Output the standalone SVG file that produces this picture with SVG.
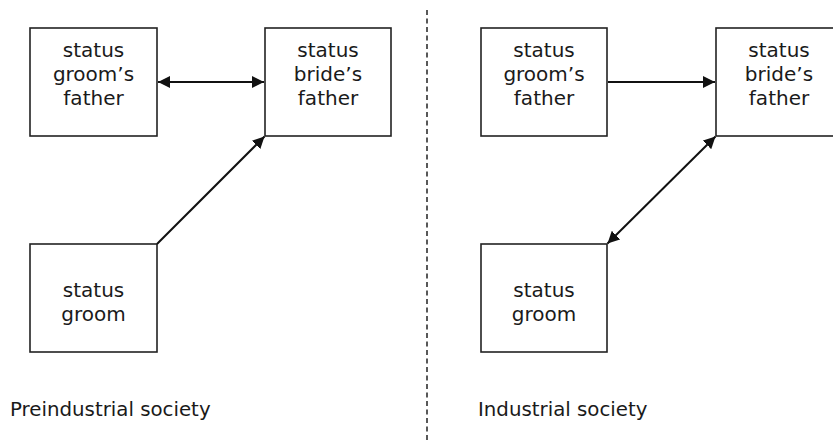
<svg xmlns="http://www.w3.org/2000/svg" width="833" height="442" viewBox="0 0 833 442">
<style>
.box{fill:#fff;stroke:#222;stroke-width:1.6}
.t{font-family:"DejaVu Sans",Verdana,sans-serif;font-size:20px;fill:#1a1a1a;text-anchor:middle}
.lbl{font-family:"DejaVu Sans",Verdana,sans-serif;font-size:19.8px;fill:#1a1a1a}
.c{stroke:#111;stroke-width:2;fill:none}
</style>
<defs>
<marker id="ah" viewBox="0 0 12 12" refX="12" refY="6" markerWidth="12" markerHeight="12" markerUnits="userSpaceOnUse" orient="auto-start-reverse">
<path d="M0,0 L12,6 L0,12 z" fill="#111"/>
</marker>
</defs>
<rect width="833" height="442" fill="#fff"/>
<line x1="427" y1="10" x2="427" y2="442" stroke="#222" stroke-width="1.5" stroke-dasharray="5,3.5"/>
<g id="pre-grooms-father">
<rect class="box" x="30" y="28" width="127" height="108"/>
<text class="t" x="93.5" y="57">status</text>
<text class="t" x="93.5" y="81">groom’s</text>
<text class="t" x="93.5" y="105">father</text>
</g>
<g id="pre-brides-father">
<rect class="box" x="265" y="28" width="126" height="108"/>
<text class="t" x="328" y="57">status</text>
<text class="t" x="328" y="81">bride’s</text>
<text class="t" x="328" y="105">father</text>
</g>
<g id="pre-groom">
<rect class="box" x="30" y="244" width="127" height="108"/>
<text class="t" x="93.5" y="297">status</text>
<text class="t" x="93.5" y="321">groom</text>
</g>
<g id="ind-grooms-father">
<rect class="box" x="481" y="28" width="126" height="108"/>
<text class="t" x="544" y="57">status</text>
<text class="t" x="544" y="81">groom’s</text>
<text class="t" x="544" y="105">father</text>
</g>
<g id="ind-brides-father">
<rect class="box" x="716" y="28" width="126" height="108"/>
<text class="t" x="779" y="57">status</text>
<text class="t" x="779" y="81">bride’s</text>
<text class="t" x="779" y="105">father</text>
</g>
<g id="ind-groom">
<rect class="box" x="481" y="244" width="126" height="108"/>
<text class="t" x="544" y="297">status</text>
<text class="t" x="544" y="321">groom</text>
</g>
<g id="connectors">
<line class="c" x1="158" y1="82" x2="264" y2="82" marker-start="url(#ah)" marker-end="url(#ah)"/>
<line class="c" x1="157" y1="244" x2="264.5" y2="136.5" marker-end="url(#ah)"/>
<line class="c" x1="608" y1="82" x2="715" y2="82" marker-end="url(#ah)"/>
<line class="c" x1="715.5" y1="136.5" x2="607.5" y2="243.5" marker-start="url(#ah)" marker-end="url(#ah)"/>
</g>
<text class="lbl" x="10" y="416">Preindustrial society</text>
<text class="lbl" x="478" y="416">Industrial society</text>
</svg>
